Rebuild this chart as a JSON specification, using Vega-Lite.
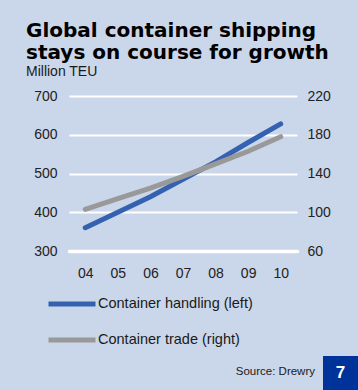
{
  "$schema": "https://vega.github.io/schema/vega-lite/v6.json",
  "width": 228,
  "height": 155,
  "autosize": {"type": "none"},
  "padding": {"left": 69, "top": 96, "right": 61, "bottom": 139},
  "background": "#cad6e9",
  "title": {
    "text": ["Global container shipping", "stays on course for growth"],
    "subtitle": "Million TEU",
    "anchor": "start",
    "frame": "group",
    "dx": -43,
    "offset": 10,
    "font": "DejaVu Sans",
    "fontSize": 20,
    "fontWeight": "bold",
    "color": "#000000",
    "lineHeight": 22,
    "subtitleFont": "Liberation Sans",
    "subtitleFontSize": 14,
    "subtitleColor": "#1a1a1a",
    "subtitlePadding": 2
  },
  "config": {
    "view": {"stroke": null},
    "font": "Liberation Sans",
    "axis": {"labelFont": "Liberation Sans", "labelFontSize": 14, "labelColor": "#222222", "ticks": false, "title": null},
    "legend": {"labelFont": "Liberation Sans"}
  },
  "data": {
    "values": [
      {"year": "04", "handling": 360, "trade": 103},
      {"year": "05", "handling": 400, "trade": 114},
      {"year": "06", "handling": 440, "trade": 125},
      {"year": "07", "handling": 485, "trade": 137},
      {"year": "08", "handling": 530, "trade": 150},
      {"year": "09", "handling": 580, "trade": 163},
      {"year": "10", "handling": 628, "trade": 178}
    ]
  },
  "encoding": {
    "x": {
      "field": "year",
      "type": "ordinal",
      "scale": {"type": "point", "padding": 0.5},
      "axis": {"labelAngle": 0, "domain": true, "domainColor": "#ffffff", "domainWidth": 3.5, "domainCap": "round", "labelPadding": 15, "grid": false}
    }
  },
  "layer": [
    {
      "mark": {"type": "line", "strokeWidth": 5, "strokeCap": "round"},
      "encoding": {
        "y": {
          "field": "handling",
          "type": "quantitative",
          "scale": {"domain": [300, 700], "nice": false, "zero": false},
          "axis": {"orient": "left", "values": [300, 400, 500, 600, 700], "domain": false, "grid": true, "gridColor": "#ffffff", "gridWidth": 2, "gridOpacity": 1, "labelPadding": 12}
        },
        "color": {
          "datum": "Container handling (left)",
          "scale": {"domain": ["Container handling (left)", "Container trade (right)"], "range": ["#3562b0", "#999999"]},
          "legend": {
            "orient": "none",
            "legendX": -23,
            "legendY": 182,
            "title": null,
            "symbolType": "stroke",
            "symbolSize": 2209,
            "symbolStrokeWidth": 5,
            "labelFontSize": 14.5,
            "labelColor": "#1a1a1a",
            "labelOffset": 0,
            "rowPadding": 0,
            "direction": "vertical"
          }
        }
      }
    },
    {
      "mark": {"type": "line", "strokeWidth": 5, "strokeCap": "round"},
      "encoding": {
        "y": {
          "field": "trade",
          "type": "quantitative",
          "scale": {"domain": [60, 220], "nice": false, "zero": false},
          "axis": {"orient": "right", "values": [60, 100, 140, 180, 220], "domain": false, "grid": false, "labelPadding": 10}
        },
        "color": {"datum": "Container trade (right)"}
      }
    },
    {
      "data": {"values": [{"src": "Source: Drewry"}]},
      "mark": {"type": "text", "align": "right", "baseline": "middle", "fontSize": 11.5, "color": "#1a1a1a", "font": "Liberation Sans"},
      "encoding": {
        "x": {"value": 246},
        "y": {"value": 276},
        "text": {"field": "src"}
      }
    },
    {
      "data": {"values": [{"n": "7"}]},
      "mark": {"type": "rect", "color": "#003399"},
      "encoding": {
        "x": {"value": 254},
        "x2": {"value": 289},
        "y": {"value": 260},
        "y2": {"value": 294}
      }
    },
    {
      "data": {"values": [{"n": "7"}]},
      "mark": {"type": "text", "align": "center", "baseline": "middle", "fontSize": 17, "fontWeight": "bold", "color": "#ffffff", "font": "Liberation Sans"},
      "encoding": {
        "x": {"value": 271.5},
        "y": {"value": 277},
        "text": {"field": "n"}
      }
    }
  ],
  "resolve": {"scale": {"y": "independent"}}
}
